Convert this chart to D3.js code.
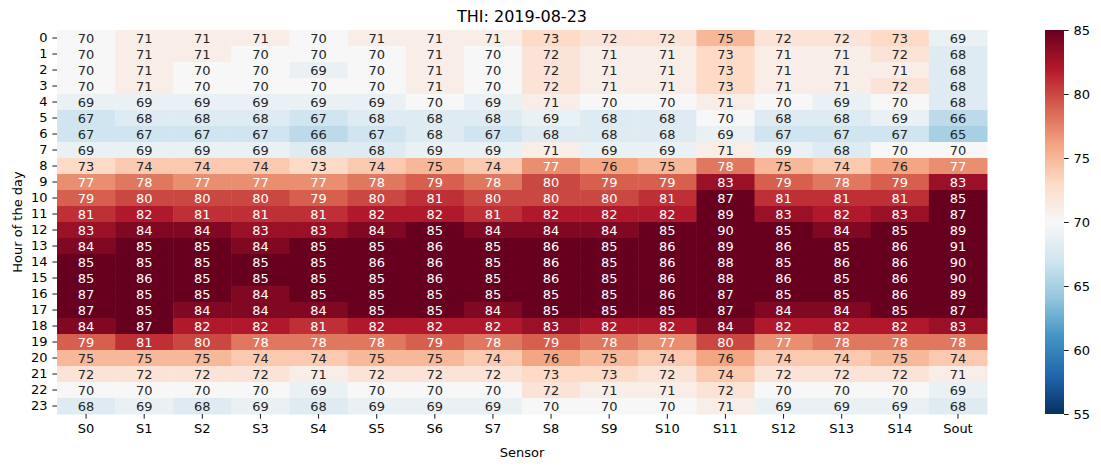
<!DOCTYPE html>
<html>
<head>
<meta charset="utf-8">
<script src="https://cdn.jsdelivr.net/npm/d3@7"></script>
<style>
  body { margin: 0; background: #fff; }
  svg { font-family: "DejaVu Sans", sans-serif; }
</style>
</head>
<body>
<script>
// THI heatmap, hour x sensor
const sensors = ['S0','S1','S2','S3','S4','S5','S6','S7','S8','S9','S10','S11','S12','S13','S14','Sout'];
const hours = d3.range(24);
const thi = [
  [70,71,71,71,70,71,71,71,73,72,72,75,72,72,73,69],
  [70,71,71,70,70,70,71,70,72,71,71,73,71,71,72,68],
  [70,71,70,70,69,70,71,70,72,71,71,73,71,71,71,68],
  [70,71,70,70,70,70,71,70,72,71,71,73,71,71,72,68],
  [69,69,69,69,69,69,70,69,71,70,70,71,70,69,70,68],
  [67,68,68,68,67,68,68,68,69,68,68,70,68,68,69,66],
  [67,67,67,67,66,67,68,67,68,68,68,69,67,67,67,65],
  [69,69,69,69,68,68,69,69,71,69,69,71,69,68,70,70],
  [73,74,74,74,73,74,75,74,77,76,75,78,75,74,76,77],
  [77,78,77,77,77,78,79,78,80,79,79,83,79,78,79,83],
  [79,80,80,80,79,80,81,80,80,80,81,87,81,81,81,85],
  [81,82,81,81,81,82,82,81,82,82,82,89,83,82,83,87],
  [83,84,84,83,83,84,85,84,84,84,85,90,85,84,85,89],
  [84,85,85,84,85,85,86,85,86,85,86,89,86,85,86,91],
  [85,85,85,85,85,86,86,85,86,85,86,88,85,86,86,90],
  [85,86,85,85,85,85,86,85,86,85,86,88,86,85,86,90],
  [87,85,85,84,85,85,85,85,85,85,86,87,85,85,86,89],
  [87,85,84,84,84,85,85,84,85,85,85,87,84,84,85,87],
  [84,87,82,82,81,82,82,82,83,82,82,84,82,82,82,83],
  [79,81,80,78,78,78,79,78,79,78,77,80,77,78,78,78],
  [75,75,75,74,74,75,75,74,76,75,74,76,74,74,75,74],
  [72,72,72,72,71,72,72,72,73,73,72,74,72,72,72,71],
  [70,70,70,70,69,70,70,70,72,71,71,72,70,70,70,69],
  [68,69,68,69,68,69,69,69,70,70,70,71,69,69,69,68]
];
const vmin = 55, vmax = 85;
const cbarTicks = [55,60,65,70,75,80,85];

// matplotlib RdBu_r stops
const rdbuR = ['#053061','#2166ac','#4393c3','#92c5de','#d1e5f0','#f7f7f7',
               '#fddbc7','#f4a582','#d6604d','#b2182b','#67001f'];

const W = 1101, H = 468;
const mLeft = 57, mRight = 987, mTop = 30, mBottom = 414;
const tickLen = 4.7, fs = 13;

const color = d3.scaleLinear()
    .domain(rdbuR.map((_, i) => vmin + (vmax - vmin) * i / (rdbuR.length - 1)))
    .range(rdbuR)
    .interpolate(d3.interpolateRgb)
    .clamp(true);

const x = d3.scaleBand().domain(sensors).range([mLeft, mRight]);
const y = d3.scaleBand().domain(hours).range([mTop, mBottom]);

const svg = d3.select('body').append('svg')
    .attr('width', W)
    .attr('height', H);

const cells = [];
thi.forEach((row, i) => row.forEach((v, j) => cells.push({h: hours[i], s: sensors[j], v})));

function lum(c) {
  const rgb = d3.rgb(c);
  const f = u => { u /= 255; return u <= 0.03928 ? u / 12.92 : Math.pow((u + 0.055) / 1.055, 2.4); };
  return 0.2126 * f(rgb.r) + 0.7152 * f(rgb.g) + 0.0722 * f(rgb.b);
}

svg.append('g').selectAll('rect')
  .data(cells)
  .join('rect')
    .attr('x', d => x(d.s))
    .attr('y', d => y(d.h))
    .attr('width', x.bandwidth() + 0.5)
    .attr('height', y.bandwidth() + 0.5)
    .attr('fill', d => color(d.v));

svg.append('g').selectAll('text')
  .data(cells)
  .join('text')
    .attr('x', d => x(d.s) + x.bandwidth() / 2)
    .attr('y', d => y(d.h) + y.bandwidth() / 2)
    .attr('text-anchor', 'middle')
    .attr('dominant-baseline', 'central')
    .attr('font-size', fs)
    .attr('fill', d => lum(color(d.v)) > 0.408 ? '#262626' : '#ffffff')
    .text(d => d3.format('.0f')(d.v));

// axes
const xAxis = svg.append('g')
    .attr('transform', `translate(0,${mBottom})`)
    .call(d3.axisBottom(x).tickSize(tickLen).tickPadding(4.7));
const yAxis = svg.append('g')
    .attr('transform', `translate(${mLeft},0)`)
    .call(d3.axisLeft(y).tickSize(tickLen).tickPadding(4.7));
[xAxis, yAxis].forEach(a => {
  a.select('.domain').remove();
  a.attr('font-size', fs).attr('font-family', null);
  a.selectAll('line').attr('stroke', '#000').attr('stroke-width', 0.9);
  a.selectAll('text').attr('fill', '#000');
});

svg.append('text')
    .attr('x', (mLeft + mRight) / 2)
    .attr('y', 457)
    .attr('text-anchor', 'middle')
    .attr('font-size', fs)
    .text('Sensor');

svg.append('text')
    .attr('transform', `translate(22,${(mTop + mBottom) / 2}) rotate(-90)`)
    .attr('text-anchor', 'middle')
    .attr('font-size', fs)
    .text('Hour of the day');

svg.append('text')
    .attr('x', (mLeft + mRight) / 2)
    .attr('y', 21.5)
    .attr('text-anchor', 'middle')
    .attr('font-size', 16)
    .text('THI: 2019-08-23');

// colorbar
const cbX = 1045, cbW = 19;
const grad = svg.append('defs').append('linearGradient')
    .attr('id', 'cbgrad')
    .attr('x1', 0).attr('y1', 1).attr('x2', 0).attr('y2', 0);
grad.selectAll('stop')
  .data(rdbuR)
  .join('stop')
    .attr('offset', (_, i) => i / (rdbuR.length - 1))
    .attr('stop-color', d => d);

svg.append('rect')
    .attr('x', cbX).attr('y', mTop)
    .attr('width', cbW).attr('height', mBottom - mTop)
    .attr('fill', 'url(#cbgrad)');

const cScale = d3.scaleLinear().domain([vmin, vmax]).range([mBottom, mTop]);
const cAxis = svg.append('g')
    .attr('transform', `translate(${cbX + cbW},0)`)
    .call(d3.axisRight(cScale).tickValues(cbarTicks).tickSize(tickLen).tickPadding(4.7));
cAxis.select('.domain').remove();
cAxis.attr('font-size', fs).attr('font-family', null);
cAxis.selectAll('line').attr('stroke', '#000').attr('stroke-width', 0.9);
cAxis.selectAll('text').attr('fill', '#000');
</script>
</body>
</html>
